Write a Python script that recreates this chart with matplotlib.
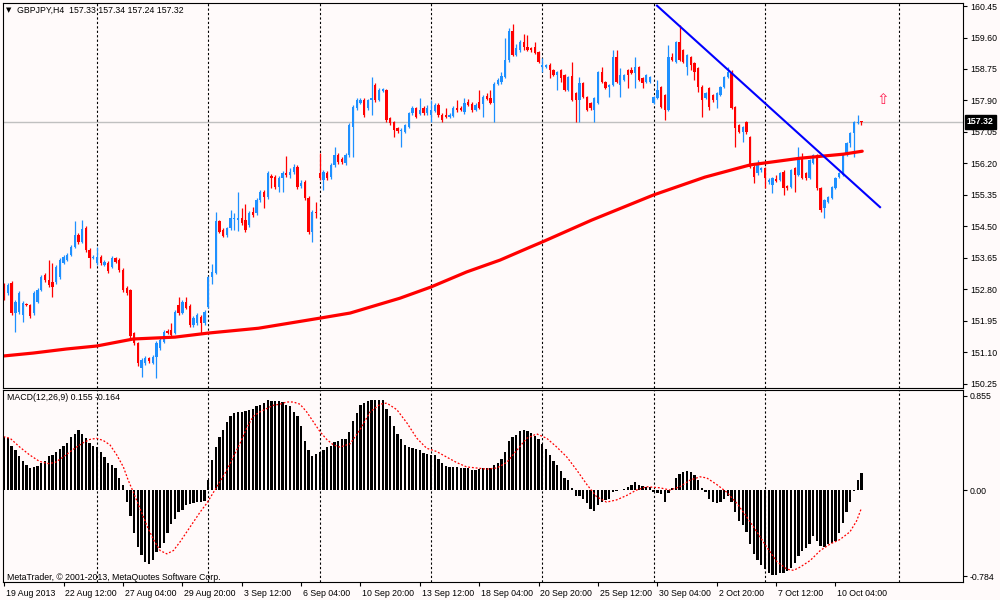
import matplotlib.pyplot as plt
import matplotlib.transforms as mtransforms

# bar numbers: 0 = Mon 26 Aug 2013 00:00, H4 bars
first_bar = -25

opens = [152.92, 152.70, 152.97, 152.16, 152.19, 152.11, 152.40, 152.38, 152.16, 152.46,
         152.78, 153.19, 153.05, 153.00, 153.00, 153.13, 153.51, 153.59, 153.72, 153.94,
         154.27, 154.08, 154.45, 153.86, 153.64, 153.51, 153.67, 153.46, 153.51, 153.40,
         153.64, 153.59, 153.32, 152.83, 152.78, 151.62, 151.35, 150.67, 150.81, 150.94,
         150.81, 150.97, 151.21, 151.38, 151.67, 151.70, 151.62, 152.38, 152.16, 152.46,
         152.35, 151.84, 151.89, 152.05, 151.89, 152.32, 153.13, 153.24, 154.64, 154.40,
         154.27, 154.45, 154.70, 154.67, 154.72, 154.67, 154.54, 154.89, 154.86, 155.21,
         155.43, 155.29, 155.86, 155.83, 155.56, 155.80, 155.94, 155.89, 155.97, 156.10,
         155.59, 155.70, 155.26, 154.35, 154.89, 155.94, 155.75, 155.94, 155.83, 156.16,
         156.43, 156.32, 156.21, 156.43, 157.18, 157.69, 157.83, 157.91, 157.69, 157.91,
         158.32, 157.91, 158.15, 158.18, 157.42, 157.32, 157.15, 157.07, 157.05, 157.18,
         157.56, 157.69, 157.53, 157.69, 157.56, 157.51, 157.61, 157.78, 157.51, 157.51,
         157.45, 157.48, 157.69, 157.69, 157.59, 157.86, 157.80, 157.64, 157.86, 157.80,
         158.02, 157.96, 157.83, 158.34, 158.40, 158.53, 158.99, 159.77, 159.13, 159.26,
         159.48, 159.34, 159.31, 159.34, 159.21, 158.80, 158.80, 158.86, 158.72, 158.59,
         158.72, 158.59, 158.18, 158.56, 158.10, 157.91, 158.37, 157.99, 157.83, 157.64,
         157.83, 158.67, 158.40, 158.26, 158.32, 159.07, 158.32, 158.45, 158.72, 158.72,
         158.64, 158.80, 158.50, 158.40, 158.40, 157.83, 157.96, 158.26, 158.05, 157.64,
         159.07, 158.94, 159.48, 159.26, 158.80, 159.07, 158.91, 158.77, 158.26, 157.96,
         158.23, 158.05, 157.91, 158.05, 158.26, 158.53, 158.67, 157.72, 157.24, 157.05,
         157.32, 156.91, 156.10, 155.94, 156.02, 156.07, 155.70, 155.62, 155.78, 155.75,
         155.97, 155.59, 155.56, 156.07, 155.89, 156.37, 155.94, 155.80, 156.21, 156.43,
         155.53, 154.99, 155.16, 155.26, 155.53, 155.83, 155.89, 156.43, 156.75, 157.02,
         157.29, 157.33]

highs = [152.97, 152.97, 153.02, 152.51, 152.75, 152.48, 152.43, 152.40, 152.75, 152.83,
         153.19, 153.24, 153.59, 153.51, 153.46, 153.64, 153.72, 153.78, 154.00, 154.64,
         154.32, 154.67, 154.51, 153.91, 153.72, 153.94, 153.72, 153.59, 153.56, 153.70,
         153.67, 153.64, 153.37, 152.89, 152.81, 151.65, 151.38, 150.94, 151.00, 150.97,
         151.03, 151.40, 151.48, 151.70, 151.73, 151.89, 152.24, 152.59, 152.51, 152.59,
         152.40, 152.08, 152.16, 152.11, 152.24, 153.16, 153.48, 154.89, 154.67, 154.45,
         154.48, 154.94, 154.86, 155.43, 154.99, 155.10, 154.91, 155.02, 155.26, 155.48,
         155.48, 155.99, 155.91, 155.89, 155.86, 155.99, 156.40, 156.07, 156.18, 156.16,
         155.75, 155.75, 155.32, 154.94, 155.16, 156.48, 156.02, 155.99, 156.21, 156.64,
         156.48, 156.37, 156.48, 157.29, 157.78, 157.96, 157.96, 157.96, 157.94, 158.53,
         158.37, 158.23, 158.23, 158.21, 157.45, 157.34, 157.18, 157.15, 157.26, 157.59,
         157.75, 157.72, 157.96, 157.75, 157.78, 157.91, 157.83, 157.83, 157.56, 157.69,
         157.56, 157.75, 157.91, 157.75, 157.96, 157.94, 157.86, 157.83, 158.18, 158.05,
         158.10, 158.18, 158.40, 158.50, 158.67, 159.58, 159.85, 159.96, 159.42, 159.53,
         159.69, 159.67, 159.34, 159.48, 159.23, 159.04, 158.88, 158.91, 158.75, 158.69,
         158.75, 158.61, 158.56, 158.94, 158.13, 158.53, 158.40, 158.02, 157.86, 157.99,
         158.69, 158.80, 158.42, 158.34, 159.26, 159.26, 158.77, 158.61, 158.75, 158.80,
         159.07, 158.83, 158.53, 158.61, 158.56, 158.02, 158.45, 158.29, 158.07, 159.40,
         159.18, 159.50, 159.94, 159.29, 159.15, 159.10, 158.94, 158.80, 158.32, 158.13,
         158.26, 158.07, 158.13, 158.29, 158.56, 158.80, 158.72, 157.75, 157.26, 157.21,
         157.34, 156.94, 156.16, 156.29, 156.10, 156.10, 155.80, 155.83, 155.89, 155.97,
         156.02, 155.62, 156.05, 156.10, 156.64, 156.48, 155.97, 156.32, 156.45, 156.45,
         155.56, 155.24, 155.32, 155.59, 155.83, 155.97, 156.45, 156.78, 157.05, 157.34,
         157.51, 157.34]

lows = [152.51, 152.65, 152.11, 151.65, 152.13, 151.92, 152.35, 152.02, 152.11, 152.43,
        152.75, 153.00, 152.86, 152.59, 152.94, 153.08, 153.48, 153.56, 153.70, 153.91,
        154.02, 154.05, 153.81, 153.37, 153.62, 153.46, 153.46, 153.43, 153.24, 153.37,
        153.51, 153.27, 152.73, 152.65, 151.48, 151.30, 150.73, 150.43, 150.76, 150.81,
        150.78, 150.40, 151.16, 151.35, 151.59, 151.51, 151.59, 152.11, 152.13, 152.27,
        151.78, 151.78, 151.84, 151.62, 151.84, 152.29, 152.94, 153.21, 154.32, 154.21,
        154.21, 154.40, 154.40, 154.37, 154.54, 154.35, 154.48, 154.75, 154.81, 155.16,
        154.99, 155.24, 155.53, 155.51, 155.43, 155.43, 155.83, 155.80, 155.91, 155.51,
        155.53, 155.21, 154.29, 154.08, 154.72, 155.75, 155.48, 155.75, 155.78, 156.10,
        156.18, 156.18, 156.16, 156.37, 156.37, 157.64, 157.80, 157.45, 157.64, 157.51,
        157.86, 157.88, 158.13, 157.32, 157.24, 156.91, 157.02, 156.64, 157.02, 157.15,
        157.51, 157.42, 157.51, 157.51, 157.51, 157.32, 157.59, 157.45, 157.32, 157.42,
        157.42, 157.45, 157.59, 157.61, 157.53, 157.75, 157.59, 157.61, 157.67, 157.45,
        157.91, 157.80, 157.32, 158.32, 158.34, 158.50, 158.94, 159.10, 159.10, 159.21,
        159.26, 159.23, 159.21, 159.15, 158.91, 158.67, 158.77, 158.50, 158.56, 158.18,
        158.40, 158.15, 158.15, 157.88, 157.32, 157.32, 157.96, 157.61, 157.64, 157.32,
        157.80, 158.37, 158.21, 157.99, 158.29, 158.37, 157.99, 158.42, 158.23, 158.61,
        158.23, 158.42, 158.23, 158.37, 158.37, 157.80, 157.94, 157.69, 157.37, 157.61,
        158.96, 158.91, 158.96, 158.91, 158.59, 158.72, 158.45, 158.13, 157.45, 157.94,
        157.64, 157.86, 157.69, 158.02, 158.23, 158.50, 157.67, 156.64, 157.02, 156.78,
        156.99, 156.07, 155.67, 155.89, 155.97, 155.53, 155.64, 155.40, 155.70, 155.72,
        155.35, 155.48, 155.53, 155.43, 155.86, 155.78, 155.75, 155.78, 156.18, 155.48,
        154.89, 154.72, 155.13, 155.24, 155.51, 155.80, 155.86, 156.40, 156.64, 156.37,
        157.26, 157.24]

closes = [152.56, 152.92, 152.16, 152.46, 152.70, 152.43, 152.38, 152.08, 152.70, 152.78,
          153.13, 153.05, 152.92, 152.86, 153.40, 153.59, 153.67, 153.72, 153.94, 154.27,
          154.08, 154.43, 153.86, 153.64, 153.67, 153.67, 153.51, 153.54, 153.29, 153.64,
          153.54, 153.32, 152.78, 152.70, 151.54, 151.35, 150.81, 150.89, 150.94, 150.86,
          150.97, 151.35, 151.43, 151.65, 151.62, 151.57, 152.19, 152.16, 152.46, 152.29,
          151.84, 152.02, 152.11, 151.89, 152.19, 153.13, 153.27, 154.64, 154.35, 154.24,
          154.45, 154.72, 154.71, 154.72, 154.59, 154.40, 154.86, 154.81, 155.21, 155.43,
          155.29, 155.94, 155.80, 155.56, 155.80, 155.94, 155.89, 155.97, 156.10, 155.56,
          155.67, 155.26, 154.35, 154.89, 154.86, 155.80, 155.97, 155.80, 156.16, 156.43,
          156.24, 156.24, 156.43, 157.24, 157.72, 157.91, 157.91, 157.51, 157.91, 157.96,
          157.91, 158.18, 158.21, 157.37, 157.29, 157.10, 157.07, 157.10, 157.24, 157.56,
          157.69, 157.45, 157.64, 157.56, 157.69, 157.64, 157.78, 157.51, 157.37, 157.45,
          157.51, 157.69, 157.64, 157.64, 157.83, 157.78, 157.64, 157.78, 157.69, 157.99,
          157.94, 157.83, 158.34, 158.45, 158.56, 158.99, 159.77, 159.13, 159.31, 159.48,
          159.34, 159.26, 159.26, 159.18, 158.94, 158.86, 158.86, 158.72, 158.59, 158.67,
          158.50, 158.18, 158.53, 157.91, 157.91, 158.37, 157.99, 157.64, 157.69, 157.96,
          158.67, 158.40, 158.23, 158.32, 159.07, 158.40, 158.59, 158.59, 158.59, 158.64,
          158.80, 158.45, 158.37, 158.59, 158.53, 157.99, 158.18, 157.72, 157.64, 159.07,
          158.99, 159.48, 158.99, 158.94, 159.13, 158.86, 158.67, 158.26, 157.91, 158.10,
          157.72, 157.91, 158.10, 158.26, 158.53, 158.67, 157.69, 157.15, 157.05, 157.18,
          157.05, 156.10, 155.83, 156.21, 156.07, 155.80, 155.75, 155.80, 155.72, 155.94,
          155.53, 155.53, 156.02, 155.89, 156.37, 155.80, 155.80, 156.29, 156.43, 155.53,
          154.94, 155.21, 155.29, 155.56, 155.80, 155.94, 156.43, 156.75, 157.02, 157.32,
          157.32, 157.32]

macd = [0.48, 0.47, 0.40, 0.36, 0.31, 0.26, 0.23, 0.20, 0.21, 0.22,
        0.25, 0.26, 0.31, 0.32, 0.35, 0.37, 0.40, 0.43, 0.48, 0.51,
        0.55, 0.51, 0.47, 0.43, 0.40, 0.39, 0.35, 0.30, 0.25, 0.23,
        0.20, 0.11, 0.05, -0.11, -0.24, -0.39, -0.52, -0.59, -0.65, -0.67,
        -0.64, -0.56, -0.53, -0.48, -0.39, -0.31, -0.26, -0.20, -0.18, -0.14,
        -0.13, -0.12, -0.11, -0.11, -0.10, 0.09, 0.27, 0.39, 0.48, 0.55,
        0.62, 0.67, 0.70, 0.71, 0.71, 0.72, 0.73, 0.74, 0.76, 0.77,
        0.79, 0.82, 0.81, 0.81, 0.81, 0.80, 0.77, 0.76, 0.71, 0.67,
        0.58, 0.45, 0.36, 0.31, 0.33, 0.35, 0.36, 0.39, 0.40, 0.44,
        0.45, 0.46, 0.46, 0.53, 0.63, 0.70, 0.77, 0.79, 0.81, 0.82,
        0.82, 0.82, 0.82, 0.74, 0.67, 0.58, 0.51, 0.46, 0.41, 0.39,
        0.38, 0.37, 0.36, 0.34, 0.33, 0.32, 0.32, 0.28, 0.25, 0.22,
        0.21, 0.21, 0.21, 0.20, 0.20, 0.20, 0.18, 0.18, 0.19, 0.20,
        0.20, 0.20, 0.23, 0.25, 0.28, 0.35, 0.45, 0.48, 0.50, 0.54,
        0.55, 0.54, 0.52, 0.49, 0.46, 0.42, 0.37, 0.32, 0.26, 0.23,
        0.17, 0.11, 0.09, 0.02, -0.05, -0.05, -0.08, -0.12, -0.17, -0.19,
        -0.14, -0.11, -0.09, -0.08, -0.02, -0.01, 0.00, 0.01, 0.03, 0.05,
        0.07, 0.05, 0.04, 0.03, 0.03, -0.02, -0.03, -0.04, -0.11, -0.03,
        0.02, 0.11, 0.15, 0.16, 0.17, 0.16, 0.14, 0.09, 0.02, -0.02,
        -0.08, -0.11, -0.12, -0.11, -0.08, -0.05, -0.11, -0.20, -0.28, -0.32,
        -0.38, -0.49, -0.58, -0.64, -0.68, -0.72, -0.75, -0.77, -0.77, -0.75,
        -0.75, -0.74, -0.71, -0.66, -0.60, -0.55, -0.53, -0.49, -0.42, -0.46,
        -0.51, -0.52, -0.49, -0.48, -0.46, -0.39, -0.30, -0.20, -0.11, -0.01,
        0.09, 0.155]

sig_bar = [-25.2, -23.4, -20.8, -18.2, -15.5, -13.1, -11.3, -9.1, -6.4, -3.7, -1.9, -0.1,
           1.7, 3.5, 5.3, 7.1, 8.4, 9.8, 11.6, 13.4, 15.2, 17.0, 18.8, 20.6, 22.4, 24.2,
           26.0, 27.8, 29.6, 31.4, 33.2, 35.0, 36.7, 38.5, 40.3, 42.1, 43.9, 45.7, 47.5,
           49.3, 51.1, 52.9, 54.7, 56.5, 58.3, 60.1, 61.9, 63.7, 65.5, 68.2, 70.9, 73.6,
           76.3, 78.1, 80.8, 83.5, 86.2, 88.8, 91.5, 94.2, 96.9, 99.6, 102.3, 105.0, 107.7,
           110.4, 113.1, 115.8, 118.5, 121.2, 123.9, 126.6, 129.3, 132.0, 134.6, 137.3,
           140.0, 142.7, 145.4, 148.1, 151.7, 154.4, 157.1, 159.8, 162.5, 164.3, 167.0,
           169.7, 172.4, 175.0, 177.8, 180.5, 183.2, 185.9, 187.7, 189.5, 192.2, 194.9,
           197.6, 200.2, 202.9, 204.7, 206.0]
sig_val = [0.485, 0.47, 0.39, 0.32, 0.26, 0.24, 0.25, 0.30, 0.37, 0.43, 0.46, 0.47,
           0.45, 0.41, 0.32, 0.21, 0.09, -0.02, -0.17, -0.32, -0.45, -0.55, -0.58, -0.55,
           -0.47, -0.38, -0.29, -0.20, -0.12, -0.02, 0.08, 0.18, 0.30, 0.42, 0.56, 0.67,
           0.71, 0.74, 0.77, 0.78, 0.80, 0.80, 0.78, 0.71, 0.62, 0.53, 0.46, 0.41, 0.39,
           0.42, 0.55, 0.71, 0.78, 0.79, 0.73, 0.61, 0.47, 0.38, 0.35, 0.30, 0.25, 0.21,
           0.20, 0.19, 0.20, 0.25, 0.36, 0.47, 0.51, 0.47, 0.39, 0.30, 0.18, 0.05, -0.06,
           -0.11, -0.09, -0.05, 0.00, 0.03, 0.02, 0.00, 0.03, 0.09, 0.12, 0.11, 0.05,
           -0.02, -0.12, -0.24, -0.38, -0.52, -0.65, -0.72, -0.73, -0.70, -0.64, -0.55,
           -0.49, -0.45, -0.38, -0.28, -0.164]

ma_bar = [-25.3, -17.2, -8.2, -0.1, 9.8, 21.0, 30.0, 43.5, 59.9, 68.2, 81.6, 89.9,
          99.6, 108.6, 116.7, 120.0, 133.3, 150.0, 163.8, 176.0, 189.4, 201.1, 206.2]
ma_val = [151.00, 151.08, 151.19, 151.27, 151.46, 151.51, 151.62, 151.75, 152.02,
          152.16, 152.56, 152.86, 153.27, 153.59, 153.94, 154.08, 154.67, 155.35,
          155.83, 156.16, 156.34, 156.45, 156.53]

trend_bar = [150.9, 211.0]
trend_val = [160.46, 155.02]

week_lines = [0, 30, 60, 90, 120, 150, 180, 216]
date_bar = [-25, -9, 7, 23, 39, 55, 71, 87, 103, 119, 135, 151, 167, 183, 199]
date_lbl = ['19 Aug 2013', '22 Aug 12:00', '27 Aug 04:00', '29 Aug 20:00', '3 Sep 12:00',
            '6 Sep 04:00', '10 Sep 20:00', '13 Sep 12:00', '18 Sep 04:00', '20 Sep 20:00',
            '25 Sep 12:00', '30 Sep 04:00', '2 Oct 20:00', '7 Oct 12:00', '10 Oct 04:00']
price_ticks = [160.45, 159.60, 158.75, 157.90, 157.05, 156.20, 155.35, 154.50,
               153.65, 152.80, 151.95, 151.10, 150.25]
macd_ticks = [0.855, 0.0, -0.784]
macd_lbls = ['0.855', '0.00', '-0.784']
last_price = 157.32
arrow_bar, arrow_price = 211.8, 157.93

bg = '#fffafa'
up_col = '#1e90ff'
dn_col = '#ff0000'
fs = 6.3
plt.rcParams['font.family'] = ['Liberation Sans', 'DejaVu Sans']

fig = plt.figure(figsize=(10, 6), dpi=100, facecolor=bg)
ax1 = fig.add_axes([0.0027, 1 - 387.5 / 600, 0.9603, 384.8 / 600], facecolor=bg)
ax2 = fig.add_axes([0.0027, 1 - 582 / 600, 0.9603, 192 / 600], facecolor=bg)

bars = list(range(first_bar, first_bar + len(closes)))
cols = [up_col if c >= o else dn_col for o, c in zip(opens, closes)]
bottoms = [min(o, c) for o, c in zip(opens, closes)]
heights = [max(abs(c - o), 0.025) for o, c in zip(opens, closes)]

ax1.vlines(bars, lows, highs, colors=cols, lw=0.9)
ax1.bar(bars, heights, bottom=bottoms, width=0.62, color=cols, lw=0)
ax1.plot(ma_bar, ma_val, color='#ff0000', lw=2.3, solid_capstyle='round')
ax1.plot(trend_bar, trend_val, color='#0000ff', lw=1.5)
ax1.axhline(last_price, color='#c0c0c0', lw=1, zorder=0)
ax1.text(arrow_bar, arrow_price, '\u21e7', color='#ff2050', fontsize=11,
         ha='center', va='center', family='DejaVu Sans')

ax2.bar(bars, macd, width=0.62, color='black', lw=0)
ax2.plot(sig_bar, sig_val, color='red', lw=0.9, ls=(0, (1.5, 1.5)))

for ax in (ax1, ax2):
    ax.set_xlim(-25.41, 233.36)
    for w in week_lines:
        ax.axvline(w, color='black', lw=0.8, ls=(0, (2, 2)), zorder=0)
    for s in ax.spines.values():
        s.set_color('black')
        s.set_linewidth(0.8)
    ax.yaxis.tick_right()
    ax.tick_params(axis='y', direction='out', length=3, width=0.8, labelsize=fs, pad=2)

ax1.set_ylim(150.15, 160.54)
ax1.set_yticks(price_ticks)
ax1.set_yticklabels(['%.2f' % p for p in price_ticks])
ax1.set_xticks([])

ax2.set_ylim(-0.836, 0.909)
ax2.set_yticks(macd_ticks)
ax2.set_yticklabels(macd_lbls)
ax2.set_xticks(date_bar)
ax2.set_xticklabels([])
ax2.tick_params(axis='x', direction='out', length=3, width=0.8)
tr = mtransforms.blended_transform_factory(ax2.transData, ax2.transAxes)
for b, lbl in zip(date_bar, date_lbl):
    ax2.text(b + 0.5, -0.035, lbl, transform=tr, ha='left', va='top', fontsize=fs)

# current price box
trp = mtransforms.blended_transform_factory(ax1.transAxes, ax1.transData)
ax1.text(1.004, last_price, '157.32', transform=trp, ha='left', va='center', fontsize=fs,
         color='white', fontweight='bold',
         bbox=dict(boxstyle='square,pad=0.25', fc='black', ec='black'))

fig.text(0.006, 1 - 10 / 600, '\u25bc', fontsize=5, va='center', family='DejaVu Sans')
fig.text(0.017, 1 - 10 / 600, 'GBPJPY,H4  157.33 157.34 157.24 157.32', fontsize=fs, va='center')
fig.text(0.007, 1 - 398 / 600, 'MACD(12,26,9) 0.155 -0.164', fontsize=fs, va='center')
fig.text(0.007, 1 - 577 / 600, 'MetaTrader, \u00a9 2001-2013, MetaQuotes Software Corp.',
         fontsize=fs, va='center')

fig.savefig('out.png', dpi=100, facecolor=bg)
